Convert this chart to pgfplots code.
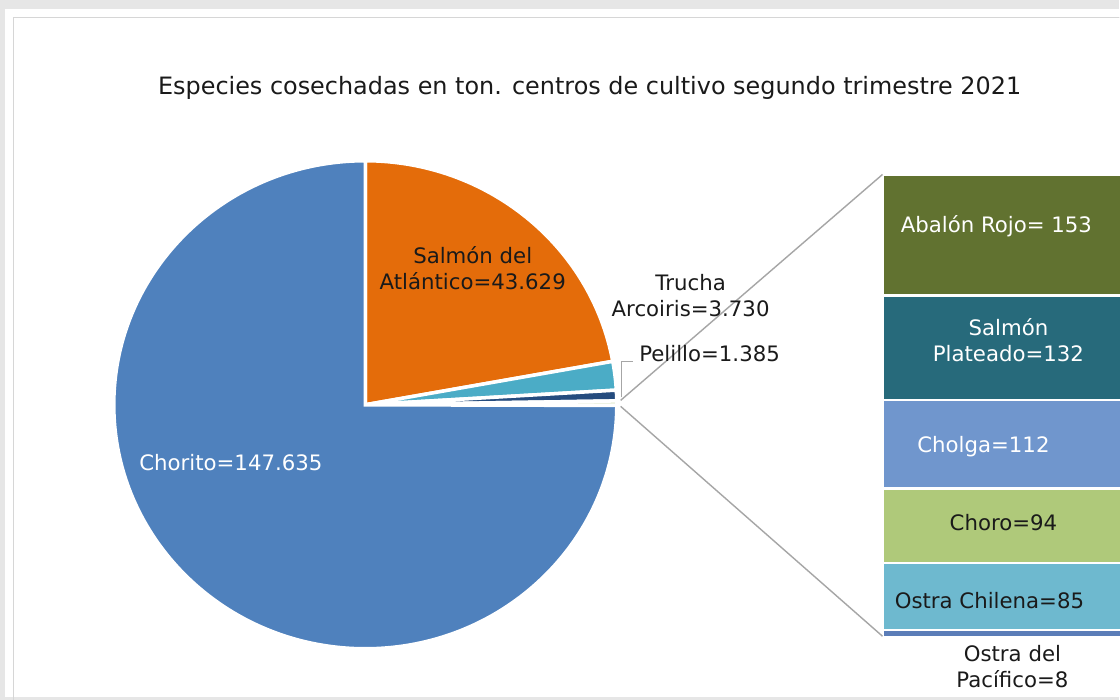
\documentclass[border=0pt]{standalone}
\usepackage{pgfplots}
\pgfplotsset{compat=1.18}
\usepackage{pgfplotstable}
\usepackage{fontspec}
\setmainfont{DejaVu Sans}

\definecolor{bgGray}{HTML}{E6E6E6}
\definecolor{frameGray}{HTML}{D6D6D6}
\definecolor{cChorito}{HTML}{4F81BD}
\definecolor{cSalmon}{HTML}{E46C0A}
\definecolor{cTrucha}{HTML}{4BACC6}
\definecolor{cPelillo}{HTML}{254C7E}
\definecolor{cOtros}{HTML}{D7E4BD}
\definecolor{cAbalon}{HTML}{617230}
\definecolor{cSPlat}{HTML}{276A7B}
\definecolor{cCholga}{HTML}{7096CD}
\definecolor{cChoro}{HTML}{AFC97A}
\definecolor{cOChil}{HTML}{6EB9CF}
\definecolor{cOPac}{HTML}{5B7DB8}
\definecolor{lineGray}{HTML}{A6A6A6}
\definecolor{txt}{HTML}{1A1A1A}

% main pie (tons)
\pgfplotstableread{
species value
Salmon 43629
Trucha 3730
Pelillo 1385
Otros 584
Chorito 147635
}\piedata

\pgfplotstablegetelem{0}{value}\of\piedata \let\vA\pgfplotsretval
\pgfplotstablegetelem{1}{value}\of\piedata \let\vB\pgfplotsretval
\pgfplotstablegetelem{2}{value}\of\piedata \let\vC\pgfplotsretval
\pgfplotstablegetelem{3}{value}\of\piedata \let\vD\pgfplotsretval
\pgfplotstablegetelem{4}{value}\of\piedata \let\vE\pgfplotsretval
\edef\T{\fpeval{\vA+\vB+\vC+\vD+\vE}}
\edef\aA{\fpeval{90-360*\vA/\T}}
\edef\aB{\fpeval{\aA-360*\vB/\T}}
\edef\aC{\fpeval{\aB-360*\vC/\T}}
\edef\aD{\fpeval{\aC-360*\vD/\T}}
\edef\aE{\fpeval{\aD-360*\vE/\T}}

\newcommand\slice[3]{% color, start, end
  \fill[#1, draw=white, line width=1pt] (axis cs:365.5,295) -- ++(#2:2.515cm and 2.44cm) arc[start angle=#2, end angle=#3, x radius=2.515cm, y radius=2.44cm] -- cycle;}

\begin{document}
\begin{tikzpicture}
\begin{axis}[at={(0,0)}, anchor=south west, x=0.01cm, y=0.01cm,
  xmin=0, xmax=1120, ymin=0, ymax=700, hide axis, clip=true]
  \fill[bgGray] (axis cs:0,0) rectangle (axis cs:1120,700);
  \fill[white] (axis cs:5,3) rectangle (axis cs:1130,691);
  \draw[frameGray, line width=0.5pt] (axis cs:13.5,-10) -- (axis cs:13.5,682.5) -- (axis cs:1130,682.5);
  \slice{cSalmon}{90}{\aA}
  \slice{cTrucha}{\aA}{\aB}
  \slice{cPelillo}{\aB}{\aC}
  \slice{cOtros}{\aC}{\aD}
  \slice{cChorito}{\aD}{\aE}
\end{axis}

\begin{axis}[at={(8.83cm,0.63cm)}, anchor=south west, scale only axis,
  width=2.37cm, height=4.62cm, xmin=0, xmax=1, ymin=0, ymax=584,
  y dir=reverse, hide axis, ybar stacked, bar width=4.74cm, bar shift=0pt,
  clip=true]
  \addplot[fill=cAbalon, draw=white, line width=0.7pt] coordinates {(1,153)};
  \addplot[fill=cSPlat, draw=white, line width=0.7pt] coordinates {(1,132)};
  \addplot[fill=cCholga, draw=white, line width=0.7pt] coordinates {(1,112)};
  \addplot[fill=cChoro, draw=white, line width=0.7pt] coordinates {(1,94)};
  \addplot[fill=cOChil, draw=white, line width=0.7pt] coordinates {(1,85)};
  \addplot[fill=cOPac, draw=white, line width=0.5pt] coordinates {(1,8)};
\end{axis}

\begin{scope}[x=0.01cm, y=-0.01cm, yshift=7cm,
  every node/.style={font=\fontsize{6.05}{7.4}\selectfont, text=txt, align=center, inner sep=0pt}]
  \draw[lineGray, line width=0.4pt] (621,401) -- (883,175);
  \draw[lineGray, line width=0.4pt] (621,407) -- (883,637);
  \draw[lineGray, line width=0.4pt] (622,398) -- (622,362) -- (633,362);
  \node[font=\fontsize{6.8}{8}\selectfont] at (590,88) {Especies cosechadas en ton. centros de cultivo segundo trimestre 2021};
  \node at (473,269) {Salmón del\\Atlántico=43.629};
  \node at (691,296) {Trucha\\Arcoiris=3.730};
  \node[anchor=west] at (639,354) {Pelillo=1.385};
  \node[text=white] at (231,463) {Chorito=147.635};
  \node[text=white] at (997,227) {Abalón Rojo= 153};
  \node[text=white] at (1009,341) {Salmón\\Plateado=132};
  \node[text=white] at (984,447) {Cholga=112};
  \node at (1004,523) {Choro=94};
  \node at (990,601) {Ostra Chilena=85};
  \node at (1013,667) {Ostra del\\Pacífico=8};
\end{scope}
\end{tikzpicture}
\end{document}
